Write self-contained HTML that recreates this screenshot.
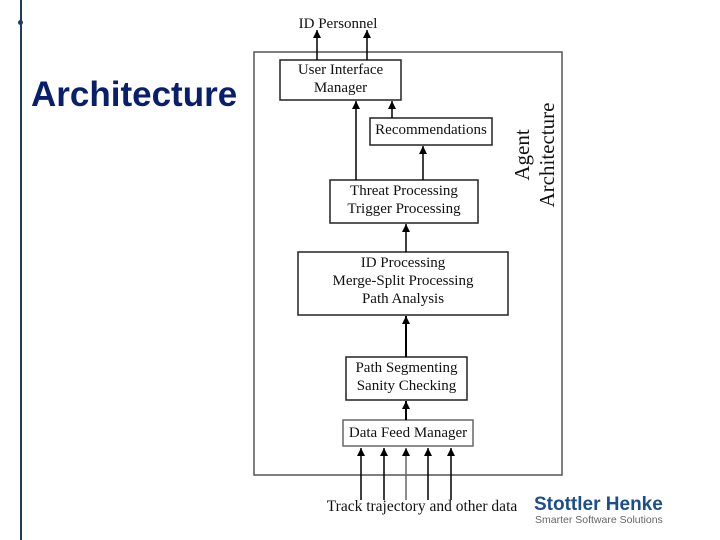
<!DOCTYPE html>
<html><head><style>
body{margin:0;width:720px;height:540px;background:#fff;position:relative;overflow:hidden}
.t{position:absolute;font-family:"Liberation Serif",serif;font-size:15px;color:#111;text-align:center;line-height:18px}
</style></head><body>
<div style="position:absolute;left:20px;top:0;width:1.5px;height:540px;background:#1f3a5a"></div>
<div style="position:absolute;left:18px;top:20px;width:5px;height:5px;border-radius:50%;background:#1f3a5a"></div>
<div style="position:absolute;left:31px;top:75px;font-family:'Liberation Sans',sans-serif;font-weight:bold;font-size:35px;color:#0a1f6b">Architecture</div>
<svg width="720" height="540" style="position:absolute;left:0;top:0">
<defs>
<marker id="b" viewBox="0 0 8 8" markerWidth="8" markerHeight="8" refX="4" refY="0" orient="0" markerUnits="userSpaceOnUse"><path d="M0,8 L4,0 L8,8 Z" fill="#000"/></marker></defs>
<g fill="none" stroke="#222" stroke-width="1.5">
<rect x="254" y="52" width="308" height="423" stroke="#555"/>
<rect x="280" y="60" width="121" height="40"/>
<rect x="370" y="118" width="122" height="27"/>
<rect x="330" y="180" width="148" height="43"/>
<rect x="298" y="252" width="210" height="63"/>
<rect x="346" y="357" width="121" height="43"/>
<rect x="343" y="420" width="130" height="26" stroke="#666"/>
</g>
<g stroke="#000" stroke-width="1.5" marker-end="url(#b)">
<line x1="317" y1="60" x2="317" y2="30"/>
<line x1="367" y1="60" x2="367" y2="30"/>
<line x1="356" y1="180" x2="356" y2="101"/>
<line x1="392" y1="118" x2="392" y2="101"/>
<line x1="423" y1="180" x2="423" y2="146"/>
<line x1="406" y1="252" x2="406" y2="224"/>
<line x1="406" y1="357" x2="406" y2="316" stroke-width="2"/>
<line x1="406" y1="420" x2="406" y2="401" stroke-width="2"/>
<line x1="361" y1="500" x2="361" y2="448"/>
<line x1="384" y1="500" x2="384" y2="448"/>
<line x1="406" y1="500" x2="406" y2="448" stroke="#666"/>
<line x1="428" y1="500" x2="428" y2="448"/>
<line x1="451" y1="500" x2="451" y2="448"/>
</g>
</svg>
<div class="t" style="left:280px;top:15px;width:116px">ID Personnel</div>
<div class="t" style="left:280px;top:61px;width:121px">User Interface<br>Manager</div>
<div class="t" style="left:370px;top:121px;width:122px">Recommendations</div>
<div class="t" style="left:330px;top:182px;width:148px">Threat Processing<br>Trigger Processing</div>
<div class="t" style="left:298px;top:254px;width:210px">ID Processing<br>Merge-Split Processing<br>Path Analysis</div>
<div class="t" style="left:346px;top:359px;width:121px">Path Segmenting<br>Sanity Checking</div>
<div class="t" style="left:343px;top:424px;width:130px">Data Feed Manager</div>
<div class="t" style="left:300px;top:498px;width:244px;font-size:15.5px">Track trajectory and other data</div>
<div class="t" style="left:455px;top:130px;width:160px;font-size:21px;line-height:25px;transform:rotate(-90deg)">Agent<br>Architecture</div>
<div style="position:absolute;left:534px;top:494px;font-family:'Liberation Sans',sans-serif;font-weight:bold;font-size:19px;color:#1c4e8a">Stottler Henke</div>
<div style="position:absolute;left:535px;top:514px;font-family:'Liberation Sans',sans-serif;font-size:10.5px;color:#666">Smarter Software Solutions</div>
</body></html>
